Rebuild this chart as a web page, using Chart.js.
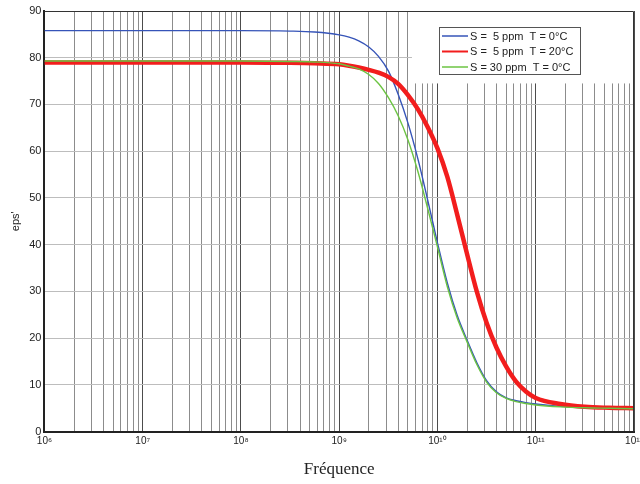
<!DOCTYPE html>
<html>
<head>
<meta charset="utf-8">
<script src="https://cdn.jsdelivr.net/npm/chart.js@4.4.1/dist/chart.umd.min.js"></script>
<style>
  body { margin: 0; background: #fff; }
  #wrap { width: 640px; height: 484px; }
</style>
</head>
<body>
<div id="wrap"><canvas id="eps" width="640" height="484"></canvas></div>
<script>
// frequencies (Hz) and eps'
var freq = [1e6, 1e7, 1e8, 3.16e8, 5.62e8,
            1e9, 1.26e9, 1.58e9, 2e9, 2.51e9, 3.16e9, 3.98e9, 5.01e9, 6.31e9, 7.94e9,
            1e10, 1.26e10, 1.58e10, 2e10, 2.51e10, 3.16e10, 3.98e10, 5.01e10, 6.31e10, 7.94e10,
            1e11, 1.78e11, 3.16e11, 5.62e11, 1e12]
var epsS5T0 = [85.8, 85.8, 85.8, 85.7, 85.5,
               84.9, 84.4, 83.6, 82.3, 80.3, 77.2, 72.2, 66.0, 58.4, 49.6,
               40.4, 31.8, 25.0, 19.6, 14.8, 10.9, 8.5, 7.2, 6.6, 6.2,
               5.9, 5.4, 5.1, 5.0, 4.9]
var epsS5T20 = [79.0, 79.0, 79.0, 78.9, 78.8,
                78.6, 78.3, 77.9, 77.4, 76.8, 75.9, 74.4, 72.0, 69.0, 65.2,
                60.6, 54.5, 46.6, 38.0, 30.0, 23.3, 18.0, 13.9, 10.7, 8.6,
                7.2, 5.9, 5.3, 5.1, 5.0]
var epsS30T0 = [79.3, 79.3, 79.3, 79.2, 79.1,
                78.7, 78.2, 77.6, 76.4, 74.5, 71.5, 67.6, 62.4, 55.7, 47.8,
                39.5, 31.0, 24.4, 19.2, 14.4, 10.6, 8.3, 7.1, 6.4, 6.0,
                5.7, 5.3, 5.1, 5.0, 4.9]
var seriesNames = ['S =  5 ppm  T = 0°C', 'S =  5 ppm  T = 20°C', 'S = 30 ppm  T = 0°C']
var yTicks = [0, 10, 20, 30, 40, 50, 60, 70, 80, 90]

var sup = {'0':'⁰','1':'¹','2':'²','3':'³','4':'⁴','5':'⁵','6':'⁶','7':'⁷','8':'⁸','9':'⁹'}
function expLabel(n) {
    return '10' + String(n).split('').map(function (c) { return sup[c] }).join('')
}

function points(vals) {
    var out = []
    for (var i = 0; i < freq.length; i++) out.push({x: freq[i], y: vals[i]})
    return out
}

// all grid positions 1..9 x 10^n
var xTickVals = []
for (var d = 6; d < 12; d++) {
    for (var k = 1; k < 10; k++) xTickVals.push(k * Math.pow(10, d))
}
xTickVals.push(1e12)

function isDecade(v) {
    var l = Math.log10(v)
    return Math.abs(l - Math.round(l)) < 1e-9
}

// white patch under the legend (the original had the grid hidden there)
var legendPatch = {
    id: 'legendPatch',
    beforeDatasetsDraw: function (chart) {
        var ctx = chart.ctx, ca = chart.chartArea
        var x0 = chart.scales.x.getPixelForValue(5.5e9)
        var y1 = chart.scales.y.getPixelForValue(74.5)
        ctx.save()
        ctx.fillStyle = '#fff'
        ctx.fillRect(x0, ca.top, ca.right - x0, y1 - ca.top)
        ctx.restore()
    }
}

var frameAndLegend = {
    id: 'frameAndLegend',
    afterDraw: function (chart) {
        var ctx = chart.ctx, ca = chart.chartArea
        ctx.save()
        // thin frame top/right
        ctx.strokeStyle = '#333'
        ctx.lineWidth = 1
        ctx.beginPath()
        ctx.moveTo(ca.left, ca.top + 0.5)
        ctx.lineTo(ca.right - 0.5, ca.top + 0.5)
        ctx.lineTo(ca.right - 0.5, ca.bottom)
        ctx.stroke()
        // legend box
        var bx = 439, by = 27, bw = 141, bh = 47
        ctx.fillStyle = '#fff'
        ctx.fillRect(bx, by, bw, bh)
        ctx.strokeStyle = '#555'
        ctx.strokeRect(bx + 0.5, by + 0.5, bw, bh)
        ctx.font = '11px "Liberation Sans", Arial, sans-serif'
        ctx.textBaseline = 'middle'
        var rows = [36, 51.5, 67]
        chart.data.datasets.forEach(function (ds, i) {
            ctx.strokeStyle = ds.borderColor
            ctx.lineWidth = i === 1 ? 2 : 1.5
            ctx.beginPath()
            ctx.moveTo(bx + 3, rows[i])
            ctx.lineTo(bx + 29, rows[i])
            ctx.stroke()
            ctx.fillStyle = '#222'
            ctx.fillText(ds.label, bx + 31, rows[i] + 0.5)
        })
        ctx.restore()
    }
}

var ctx = document.getElementById('eps').getContext('2d')
var chart = new Chart(ctx, {
    type: 'line',
    data: {
        datasets: [
            {label: seriesNames[0], data: points(epsS5T0), borderColor: '#3654b8', borderWidth: 1.4, order: 2},
            {label: seriesNames[1], data: points(epsS5T20), borderColor: '#f21d1d', borderWidth: 4.5, order: 1},
            {label: seriesNames[2], data: points(epsS30T0), borderColor: '#6cc443', borderWidth: 1.4, order: 0}
        ]
    },
    options: {
        responsive: false,
        animation: false,
        layout: {padding: {left: 9, right: 6, top: 11, bottom: 4}},
        elements: {
            point: {radius: 0},
            line: {cubicInterpolationMode: 'monotone'}
        },
        plugins: {
            legend: {display: false},
            tooltip: {enabled: false}
        },
        scales: {
            x: {
                type: 'logarithmic',
                min: 1e6,
                max: 1e12,
                afterBuildTicks: function (scale) {
                    scale.ticks = xTickVals.map(function (v) { return {value: v, major: isDecade(v)} })
                },
                afterFit: function (scale) {
                    // let the last label run off the edge like the original
                    scale.paddingRight = 0
                    scale.paddingLeft = 0
                },
                ticks: {
                    autoSkip: false,
                    maxRotation: 0,
                    padding: 4,
                    color: '#222',
                    font: {family: '"Liberation Sans", Arial, sans-serif', size: 10},
                    callback: function (v) {
                        return isDecade(v) ? expLabel(Math.round(Math.log10(v))) : ''
                    }
                },
                grid: {
                    drawTicks: false,
                    color: function (c) { return c.tick && isDecade(c.tick.value) ? 'rgba(0,0,0,0.7)' : 'rgba(0,0,0,0.45)' },
                    lineWidth: 1
                },
                border: {color: '#222', width: 2},
                title: {
                    display: true,
                    text: 'Fréquence',
                    color: '#222',
                    padding: {top: 8, bottom: 0},
                    font: {family: '"Liberation Serif", "Times New Roman", serif', size: 17}
                }
            },
            y: {
                min: 0,
                max: 90,
                afterBuildTicks: function (scale) {
                    scale.ticks = yTicks.map(function (v) { return {value: v} })
                },
                ticks: {
                    padding: 3,
                    color: '#222',
                    font: {family: '"Liberation Sans", Arial, sans-serif', size: 11}
                },
                grid: {drawTicks: false, color: '#bdbdbd', lineWidth: 1},
                border: {color: '#222', width: 2},
                title: {
                    display: true,
                    text: "eps'",
                    color: '#222',
                    padding: {top: 0, bottom: 4},
                    font: {family: '"Liberation Sans", Arial, sans-serif', size: 11}
                }
            }
        }
    },
    plugins: [legendPatch, frameAndLegend]
})
</script>
</body>
</html>
